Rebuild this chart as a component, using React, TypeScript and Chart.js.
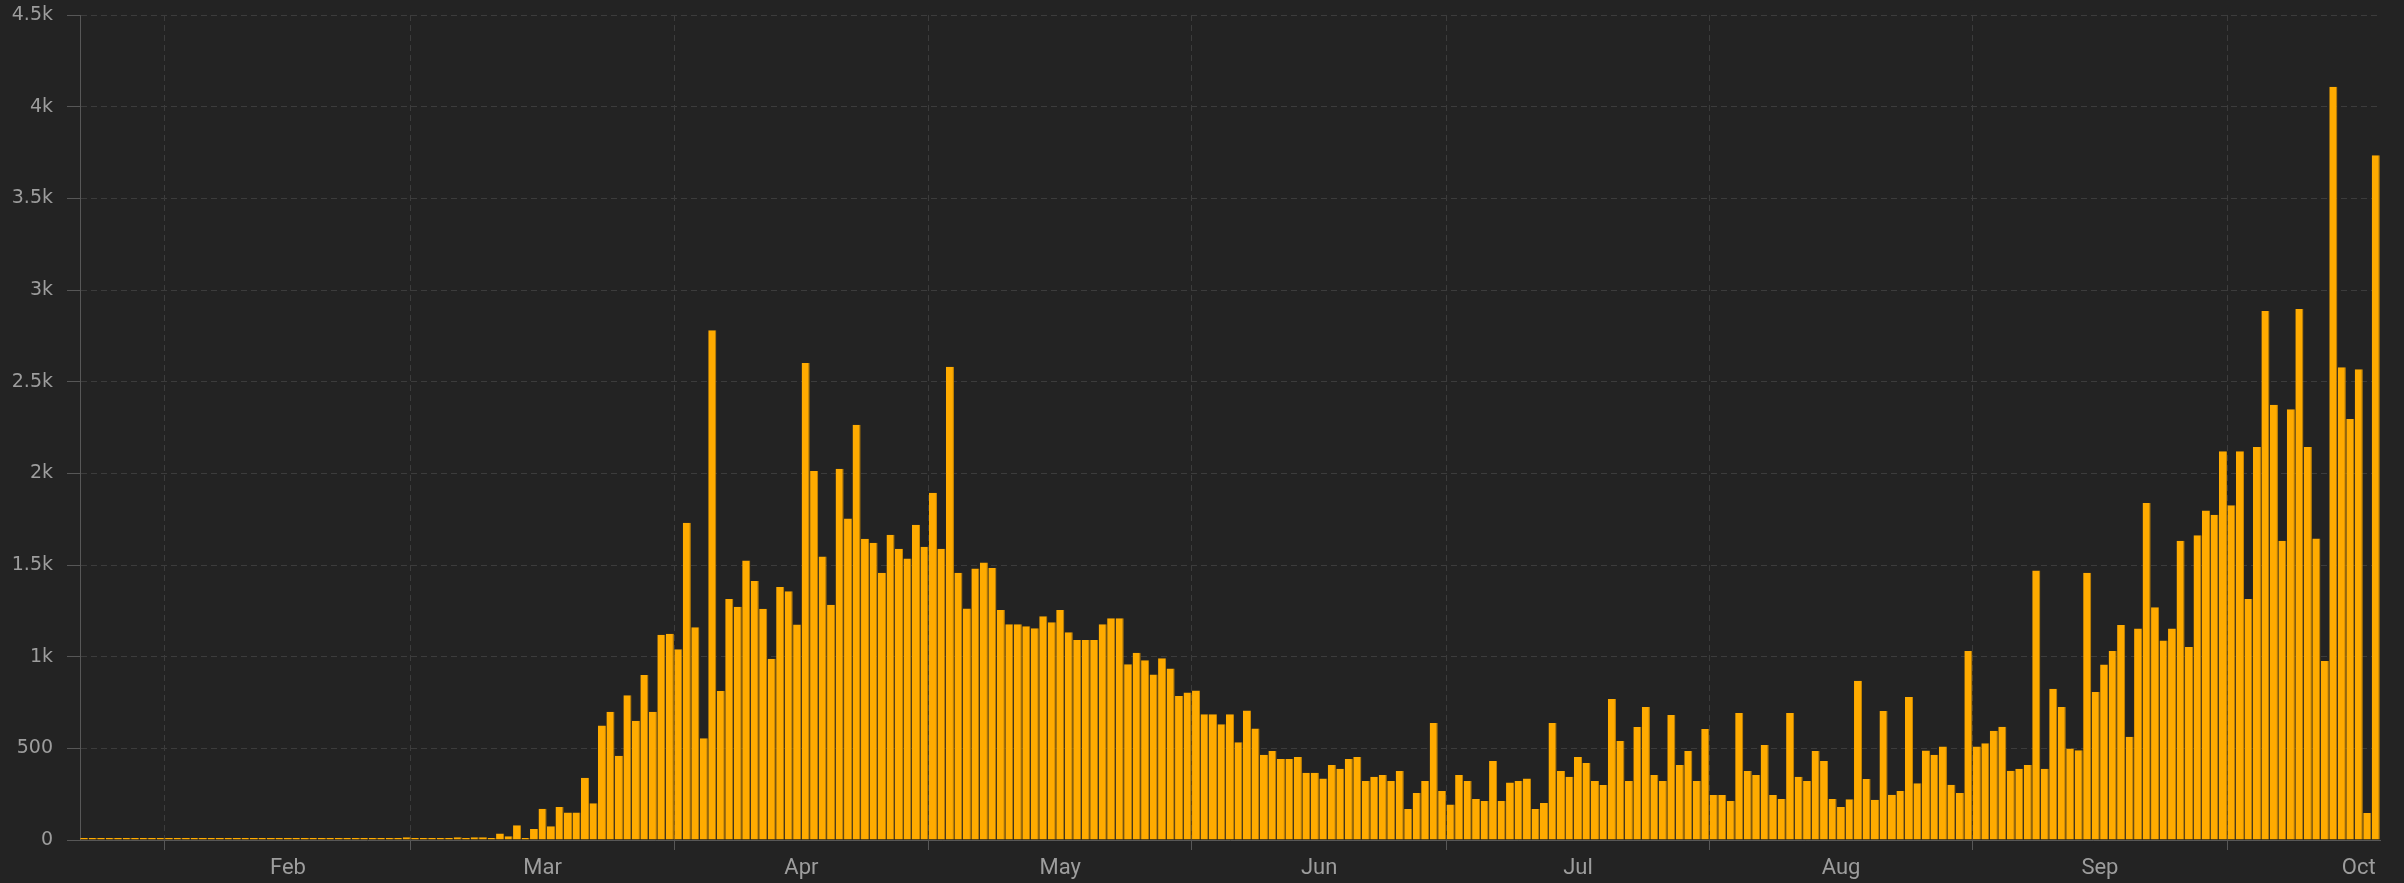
import React, { useEffect, useRef } from 'react';
import { Chart, registerables } from 'chart.js';

Chart.register(...registerables);

// Daily values, 22 Jan 2020 – 18 Oct 2020
const JAN = [0, 0, 0, 1, 0, 1, 0, 0, 0, 1]; // from 22 Jan
const FEB = [0, 0, 0, 0, 0, 0, 0, 0, 0, 0, 0, 0, 0, 0, 0, 0, 0, 0, 0, 1, 0, 0, 0, 1, 0, 1, 2, 3, 15];
const MAR = [3, 3, 4, 3, 4, 15, 4, 15, 15, 4, 35, 20, 80, 6, 60, 170, 75, 180, 150, 150, 340, 200, 625, 700, 460, 790, 650, 900, 700, 1120, 1125];
const APR = [1040, 1730, 1160, 555, 2780, 813, 1315, 1272, 1524, 1413, 1261, 989, 1380, 1357, 1175, 2602, 2013, 1546, 1283, 2025, 1753, 2265, 1643, 1622, 1458, 1665, 1589, 1535, 1719, 1600];
const MAY = [1894, 1589, 2582, 1458, 1263, 1481, 1514, 1484, 1254, 1177, 1177, 1166, 1155, 1221, 1188, 1254, 1133, 1091, 1091, 1091, 1177, 1210, 1210, 958, 1022, 980, 903, 991, 936, 785, 805];
const JUN = [816, 686, 686, 631, 686, 533, 706, 608, 465, 486, 442, 442, 453, 367, 367, 335, 409, 389, 442, 453, 322, 345, 355, 322, 376, 169, 256, 322, 638, 267];
const JUL = [193, 355, 322, 224, 213, 431, 213, 313, 322, 335, 169, 202, 638, 376, 345, 453, 420, 322, 300, 769, 540, 322, 616, 725, 355, 322, 682, 409, 486, 322, 606];
const AUG = [245, 245, 213, 693, 376, 355, 518, 245, 224, 693, 345, 322, 486, 431, 224, 180, 222, 869, 333, 220, 703, 247, 267, 780, 310, 488, 465, 510, 301, 256, 1031];
const SEP = [510, 528, 596, 618, 378, 389, 409, 1470, 389, 825, 726, 499, 490, 1458, 807, 957, 1031, 1173, 563, 1153, 1838, 1270, 1088, 1153, 1632, 1053, 1662, 1797, 1774, 2121];
const OCT = [1826, 2121, 1315, 2144, 2885, 2374, 1632, 2350, 2897, 2144, 1644, 976, 4109, 2579, 2297, 2568, 147, 3735];

const MONTH_NAMES = ['Jan', 'Feb', 'Mar', 'Apr', 'May', 'Jun', 'Jul', 'Aug', 'Sep', 'Oct'];
const DAYS_IN_MONTH = [31, 29, 31, 30, 31, 30, 31, 31, 30, 31];
const FIRST_DAY = 22; // series starts on 22 Jan
const SERIES = [JAN, FEB, MAR, APR, MAY, JUN, JUL, AUG, SEP, OCT];

const Y_TICKS = [0, 500, 1000, 1500, 2000, 2500, 3000, 3500, 4000, 4500];

const BG = '#232323';
const BAR = '#ffab00';
const BAR_EDGE = '#c98600';
const GRID = '#3c3c3c';
const AXIS = '#575757';
const LABEL = '#9d9d9d';

export default function App() {
  const ref = useRef<HTMLCanvasElement>(null);

  useEffect(() => {
    const values: number[] = ([] as number[]).concat(...SERIES);
    const total = values.length;
    const points = values.map((v, i) => ({ x: i + 0.5, y: v }));

    const starts: number[] = [];
    const centers: number[] = [];
    const labelMap = new Map<number, string>();
    let s = -(FIRST_DAY - 1);
    for (let m = 0; m < MONTH_NAMES.length; m++) {
      if (s > 0 && s < total) starts.push(s);
      const c = s + DAYS_IN_MONTH[m] / 2;
      if (c > 0 && c < total) {
        centers.push(c);
        labelMap.set(c, MONTH_NAMES[m]);
      }
      s += DAYS_IN_MONTH[m];
    }
    const startSet = new Set(starts);
    const xTicks = [...starts, ...centers].sort((a, b) => a - b);

    const chart = new Chart(ref.current as HTMLCanvasElement, {
      type: 'bar',
      data: {
        datasets: [
          {
            data: points,
            backgroundColor: BAR,
            borderColor: BAR_EDGE,
            borderWidth: { top: 0, right: 1, bottom: 0, left: 0 },
            borderSkipped: false,
            barPercentage: 0.95,
            categoryPercentage: 1,
            minBarLength: 2,
          },
        ],
      },
      options: {
        animation: false,
        responsive: false,
        devicePixelRatio: 1,
        layout: { padding: { left: 0, top: 15, right: 24, bottom: 0 } },
        plugins: { legend: { display: false }, tooltip: { enabled: false } },
        scales: {
          x: {
            type: 'linear',
            min: 0,
            max: total,
            offset: false,
            afterBuildTicks: (axis: any) => {
              axis.ticks = xTicks.map((v) => ({ value: v }));
            },
            afterFit: (scale: any) => {
              scale.height = 43;
              scale.paddingLeft = 0;
              scale.paddingRight = 0;
            },
            ticks: {
              autoSkip: false,
              maxRotation: 0,
              minRotation: 0,
              padding: 5,
              color: LABEL,
              font: { family: 'Roboto', size: 22 },
              callback: (value: any) => labelMap.get(Number(value)) ?? '',
            },
            grid: {
              offset: false,
              drawTicks: true,
              tickLength: 10,
              lineWidth: 1,
              color: (ctx: any) => (ctx.tick && startSet.has(ctx.tick.value) ? GRID : 'transparent'),
              tickColor: (ctx: any) => (ctx.tick && startSet.has(ctx.tick.value) ? AXIS : 'transparent'),
            },
            border: { display: true, color: AXIS, width: 1, dash: [6, 4] },
          },
          y: {
            min: 0,
            max: 4500,
            afterBuildTicks: (axis: any) => {
              axis.ticks = Y_TICKS.map((v) => ({ value: v }));
            },
            afterFit: (scale: any) => {
              scale.width = 80;
              scale.paddingTop = 0;
              scale.paddingBottom = 0;
            },
            ticks: {
              padding: 14,
              color: LABEL,
              font: { family: 'DejaVu Sans', size: 19 },
              callback: (v: any) => (Number(v) >= 1000 ? `${Number(v) / 1000}k` : `${v}`),
            },
            grid: {
              drawTicks: true,
              tickLength: 13,
              lineWidth: 1,
              color: GRID,
              tickColor: AXIS,
            },
            border: { display: true, color: AXIS, width: 1, dash: [6, 4] },
          },
        },
      },
    } as any);

    return () => chart.destroy();
  }, []);

  return (
    <div style={{ position: 'fixed', left: 0, top: 0, width: 2404, height: 883, background: BG }}>
      <canvas ref={ref} width={2404} height={883} style={{ display: 'block', width: 2404, height: 883 }} />
    </div>
  );
}
